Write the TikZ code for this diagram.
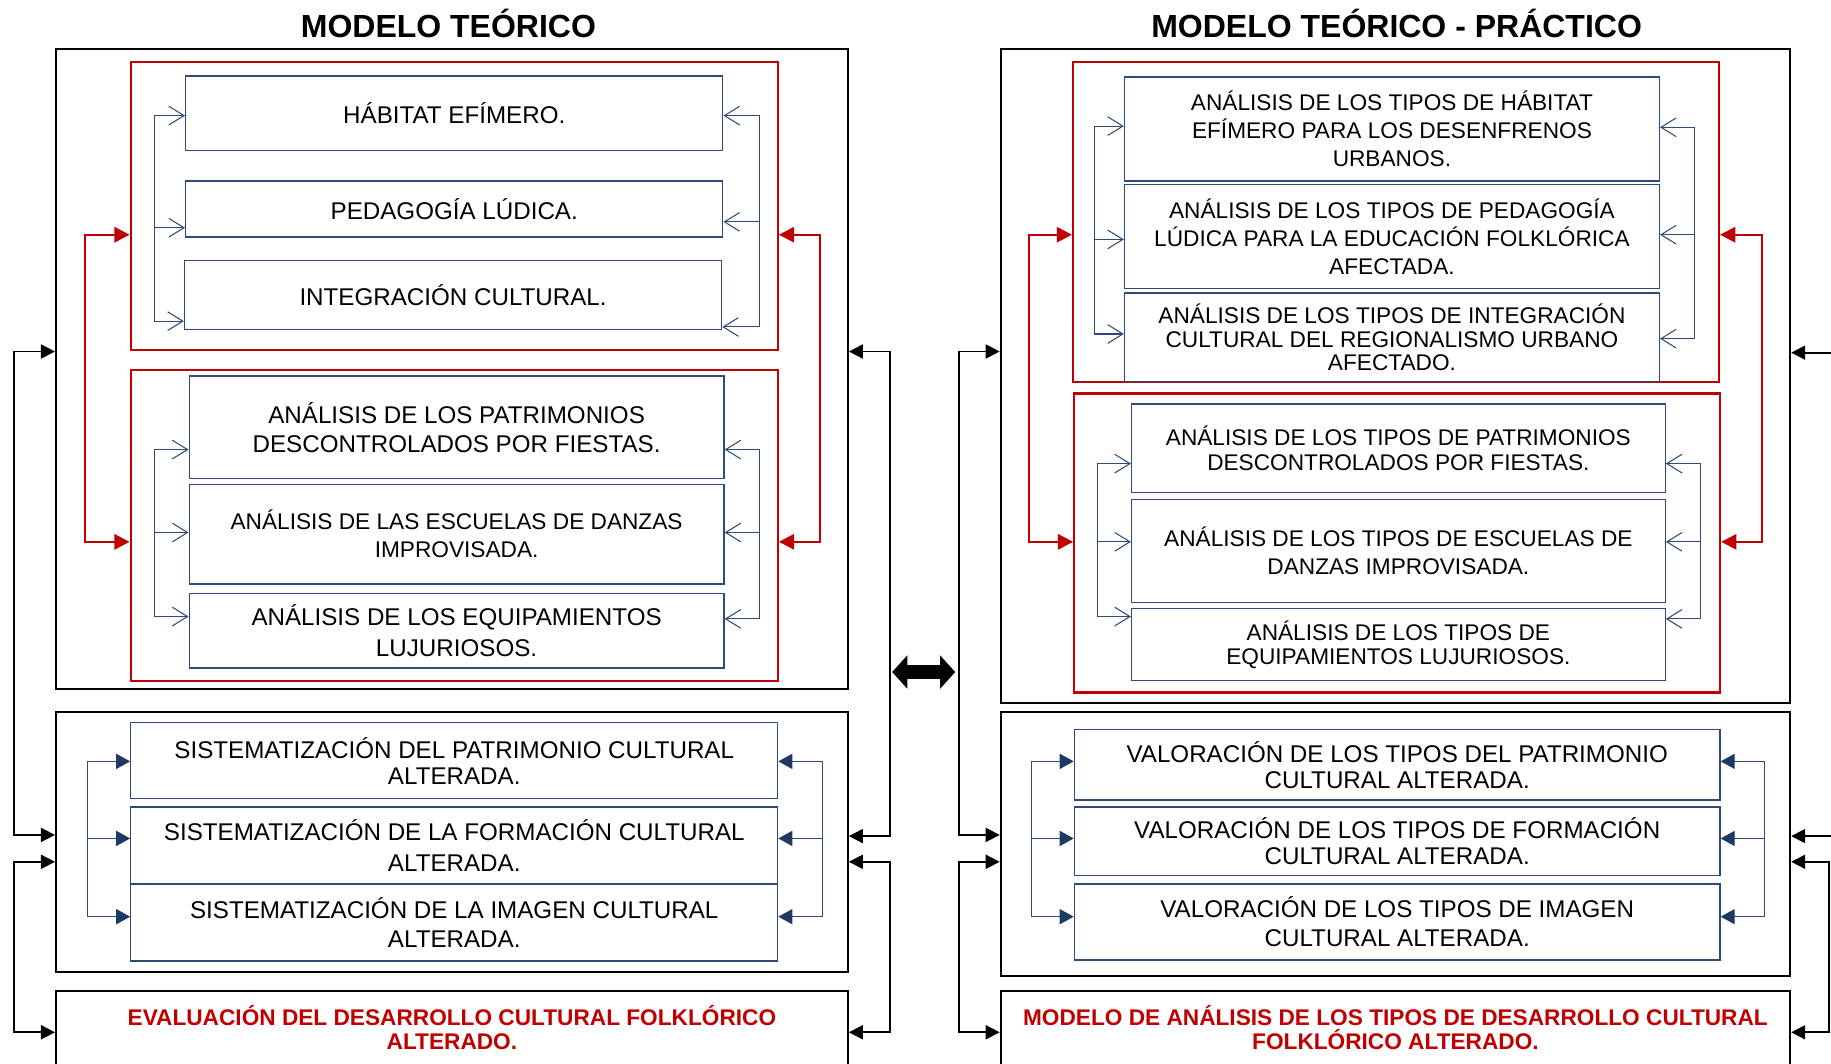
\documentclass[tikz,border=0pt]{standalone}
\usepackage{fontspec}
\setmainfont{Liberation Sans}
\usetikzlibrary{arrows.meta}

\definecolor{azul}{HTML}{2E4A7D}
\definecolor{azulosc}{HTML}{1F3864}
\definecolor{rojo}{HTML}{C00000}

\tikzset{
  titulo/.style={font=\fontsize{27.4}{30}\selectfont\bfseries},
  marco/.style={draw=black, line width=1.8, inner sep=0},
  marcorojo/.style={draw=rojo, line width=2, inner sep=0},
  caja/.style={draw=azul, line width=1.1, inner sep=0, align=center,
    font=\fontsize{19.4}{#1}\selectfont},
  caja/.default=24,
  cajag/.style={caja, font=\fontsize{20.7}{#1}\selectfont},
  cajag/.default=24,
  textorojo/.style={text=rojo, align=center, font=\fontsize{19.4}{20}\selectfont\bfseries},
  guia/.style={draw=azul, line width=0.9},
  punta/.style={guia, -{Straight Barb[length=13,width=16]}},
  flecha/.style={guia, -{Triangle[length=12,width=13,color=azulosc]}},
  conrojo/.style={draw=rojo, line width=2,
    {Triangle[length=13,width=13]}-{Triangle[length=13,width=13]}},
  connegro/.style={draw=black, line width=1.5,
    {Triangle[length=12,width=12]}-{Triangle[length=12,width=12]}},
  doble/.style={draw=black, line width=12,
    {Triangle[length=13,width=28]}-{Triangle[length=13,width=28]}}
}

\begin{document}
\begin{tikzpicture}[x=1pt,y=-1pt]
  \useasboundingbox (0,0) rectangle (1568,911);
  \clip (0,0) rectangle (1568,911);

  % Titulos
  \node[titulo, anchor=base] (t1) at (384,32) {MODELO TEÓRICO};
  \node[titulo, anchor=base] (t2) at (1196,32) {MODELO TEÓRICO - PRÁCTICO};

  % Modelo teorico: primer bloque
  \node[marco, minimum width=678, minimum height=548] (lo1) at (387,316) {};
  \node[marcorojo, minimum width=554, minimum height=247] (lr1) at (389,176.5) {};
  \node[cajag, minimum width=460, minimum height=64] (la) at (389,97) {HÁBITAT EFÍMERO.};
  \node[cajag, minimum width=460, minimum height=48] (lb) at (389,179) {PEDAGOGÍA LÚDICA.};
  \node[cajag, minimum width=460, minimum height=59] (lc) at (388,252.5) {INTEGRACIÓN CULTURAL.};
  \node[marcorojo, minimum width=554, minimum height=266] (lr2) at (389,450) {};
  \node[cajag=25, minimum width=458, minimum height=88] (ld) at (391,366) {ANÁLISIS DE LOS PATRIMONIOS\\DESCONTROLADOS POR FIESTAS.};
  \node[caja, minimum width=458, minimum height=85] (le) at (391,457.5) {ANÁLISIS DE LAS ESCUELAS DE DANZAS\\IMPROVISADA.};
  \node[cajag=26, minimum width=458, minimum height=64] (lf) at (391,540) {ANÁLISIS DE LOS EQUIPAMIENTOS\\LUJURIOSOS.};

  % Modelo teorico: segundo y tercer bloque
  \node[marco, minimum width=678, minimum height=222] (lo2) at (387,721) {};
  \node[cajag=22, minimum width=554, minimum height=65] (lg) at (389,651.5) {SISTEMATIZACIÓN DEL PATRIMONIO CULTURAL\\ALTERADA.};
  \node[cajag=26, minimum width=554, minimum height=66] (lh) at (389,724) {SISTEMATIZACIÓN DE LA FORMACIÓN CULTURAL\\ALTERADA.};
  \node[cajag=25, minimum width=554, minimum height=66] (li) at (389,790) {SISTEMATIZACIÓN DE LA IMAGEN CULTURAL\\ALTERADA.};
  \node[marco, minimum width=678, minimum height=120, anchor=north] (lo3) at (387,848) {};
  \node[textorojo] (lt) at (387,880) {EVALUACIÓN DEL DESARROLLO CULTURAL FOLKLÓRICO\\ALTERADO.};

  % Modelo teorico - practico: primer bloque
  \node[marco, minimum width=676, minimum height=560] (ro1) at (1195,322) {};
  \node[marcorojo, minimum width=553, minimum height=274] (rr1) at (1195.5,190) {};
  \node[caja, minimum width=458, minimum height=89] (ra) at (1192,110.5) {ANÁLISIS DE LOS TIPOS DE HÁBITAT\\EFÍMERO PARA LOS DESENFRENOS\\URBANOS.};
  \node[caja, minimum width=458, minimum height=89] (rb) at (1192,202.5) {ANÁLISIS DE LOS TIPOS DE PEDAGOGÍA\\LÚDICA PARA LA EDUCACIÓN FOLKLÓRICA\\AFECTADA.};
  \node[caja=20, minimum width=458, minimum height=76] (rc) at (1192,289) {ANÁLISIS DE LOS TIPOS DE INTEGRACIÓN\\CULTURAL DEL REGIONALISMO URBANO\\AFECTADO.};
  \node[marcorojo, minimum width=553, minimum height=256] (rr2) at (1196.5,465) {};
  \node[caja=21, minimum width=457, minimum height=76] (rd) at (1197.5,384) {ANÁLISIS DE LOS TIPOS DE PATRIMONIOS\\DESCONTROLADOS POR FIESTAS.};
  \node[caja, minimum width=457, minimum height=88] (re) at (1197.5,472) {ANÁLISIS DE LOS TIPOS DE ESCUELAS DE\\DANZAS IMPROVISADA.};
  \node[caja=21, minimum width=457, minimum height=62] (rf) at (1197.5,552) {ANÁLISIS DE LOS TIPOS DE\\EQUIPAMIENTOS LUJURIOSOS.};

  % Modelo teorico - practico: segundo y tercer bloque
  \node[marco, minimum width=676, minimum height=226] (ro2) at (1195,723) {};
  \node[cajag=22, minimum width=553, minimum height=60] (rg) at (1196.5,655) {VALORACIÓN DE LOS TIPOS DEL PATRIMONIO\\CULTURAL ALTERADA.};
  \node[cajag=22, minimum width=553, minimum height=59] (rh) at (1196.5,720.5) {VALORACIÓN DE LOS TIPOS DE FORMACIÓN\\CULTURAL ALTERADA.};
  \node[cajag=25, minimum width=553, minimum height=65] (ri) at (1196.5,789.5) {VALORACIÓN DE LOS TIPOS DE IMAGEN\\CULTURAL ALTERADA.};
  \node[marco, minimum width=676, minimum height=120, anchor=north] (ro3) at (1195,848) {};
  \node[textorojo] (rt) at (1195,880) {MODELO DE ANÁLISIS DE LOS TIPOS DE DESARROLLO CULTURAL\\FOLKLÓRICO ALTERADO.};

  % Flechas azules abiertas (bloques rojos)
  \foreach \n/\y in {la/99,lb/195,lc/275,ld/385,le/456,lf/528}{
    \coordinate (i\n) at (132,\y);
    \draw[punta] (i\n) -- (i\n -| \n.west);
  }
  \foreach \n/\y in {la/99,lb/190,lc/280,ld/385,le/456,lf/530}{
    \coordinate (d\n) at (650,\y);
    \draw[punta] (d\n) -- (d\n -| \n.east);
  }
  \foreach \n/\y in {ra/108,rb/205,rc/286}{
    \coordinate (i\n) at (937,\y);
    \draw[punta] (i\n) -- (i\n -| \n.west);
  }
  \foreach \n/\y in {rd/397,re/464,rf/528}{
    \coordinate (i\n) at (940,\y);
    \draw[punta] (i\n) -- (i\n -| \n.west);
  }
  \foreach \n/\y in {ra/109,rb/201,rc/290}{
    \coordinate (d\n) at (1451,\y);
    \draw[punta] (d\n) -- (d\n -| \n.east);
  }
  \foreach \n/\y in {rd/397,re/464,rf/530}{
    \coordinate (d\n) at (1456,\y);
    \draw[punta] (d\n) -- (d\n -| \n.east);
  }
  \draw[guia, line cap=rect] (ila) -- (ilc);
  \draw[guia, line cap=rect] (ild) -- (ilf);
  \draw[guia, line cap=rect] (dla) -- (dlc);
  \draw[guia, line cap=rect] (dld) -- (dlf);
  \draw[guia, line cap=rect] (ira) -- (irc);
  \draw[guia, line cap=rect] (ird) -- (irf);
  \draw[guia, line cap=rect] (dra) -- (drc);
  \draw[guia, line cap=rect] (drd) -- (drf);

  % Flechas azules llenas (segundo bloque)
  \foreach \n/\y in {lg/652,lh/718,li/785}{
    \coordinate (i\n) at (75,\y);
    \coordinate (d\n) at (704,\y);
    \draw[flecha] (i\n) -- (i\n -| \n.west);
    \draw[flecha] (d\n) -- (d\n -| \n.east);
  }
  \foreach \n/\y in {rg/652,rh/718,ri/785}{
    \coordinate (i\n) at (883,\y);
    \coordinate (d\n) at (1511,\y);
    \draw[flecha] (i\n) -- (i\n -| \n.west);
    \draw[flecha] (d\n) -- (d\n -| \n.east);
  }
  \draw[guia, line cap=rect] (ilg) -- (ili);
  \draw[guia, line cap=rect] (dlg) -- (dli);
  \draw[guia, line cap=rect] (irg) -- (iri);
  \draw[guia, line cap=rect] (drg) -- (dri);

  % Conectores rojos
  \coordinate (lra) at (73,201);
  \coordinate (lrb) at (73,464);
  \coordinate (lrc) at (702,201);
  \coordinate (lrd) at (702,464);
  \draw[conrojo] (lra -| lr1.west) -- (lra) -- (lrb) -- (lrb -| lr2.west);
  \draw[conrojo] (lrc -| lr1.east) -- (lrc) -- (lrd) -- (lrd -| lr2.east);
  \coordinate (rra) at (881,201);
  \coordinate (rrb) at (881,464);
  \coordinate (rrc) at (1509,201);
  \coordinate (rrd) at (1509,464);
  \draw[conrojo] (rra -| rr1.west) -- (rra) -- (rrb) -- (rrb -| rr2.west);
  \draw[conrojo] (rrc -| rr1.east) -- (rrc) -- (rrd) -- (rrd -| rr2.east);

  % Conectores negros
  \coordinate (lka) at (12,301);
  \coordinate (lkb) at (12,715);
  \coordinate (lkc) at (12,738);
  \coordinate (lkd) at (12,884);
  \draw[connegro] (lka -| lo1.west) -- (lka) -- (lkb) -- (lkb -| lo2.west);
  \draw[connegro] (lkc -| lo2.west) -- (lkc) -- (lkd) -- (lkd -| lo3.west);
  \coordinate (lke) at (762,301);
  \coordinate (lkf) at (762,716);
  \coordinate (lkg) at (762,738);
  \coordinate (lkh) at (762,884);
  \draw[connegro] (lke -| lo1.east) -- (lke) -- (lkf) -- (lkf -| lo2.east);
  \draw[connegro] (lkg -| lo2.east) -- (lkg) -- (lkh) -- (lkh -| lo3.east);
  \coordinate (rka) at (821,301);
  \coordinate (rkb) at (821,715);
  \coordinate (rkc) at (821,738);
  \coordinate (rkd) at (821,884);
  \draw[connegro] (rka -| ro1.west) -- (rka) -- (rkb) -- (rkb -| ro2.west);
  \draw[connegro] (rkc -| ro2.west) -- (rkc) -- (rkd) -- (rkd -| ro3.west);
  \coordinate (rke) at (1575,302);
  \coordinate (rkf) at (1575,716);
  \coordinate (rkg) at (1566,738);
  \coordinate (rkh) at (1566,884);
  \draw[connegro] (rke -| ro1.east) -- (rke) -- (rkf) -- (rkf -| ro2.east);
  \draw[connegro] (rkg -| ro2.east) -- (rkg) -- (rkh) -- (rkh -| ro3.east);

  % Doble flecha entre modelos
  \coordinate (ma) at (764,575.5);
  \coordinate (mb) at (818,575.5);
  \draw[doble] (ma) -- (mb);
\end{tikzpicture}
\end{document}
